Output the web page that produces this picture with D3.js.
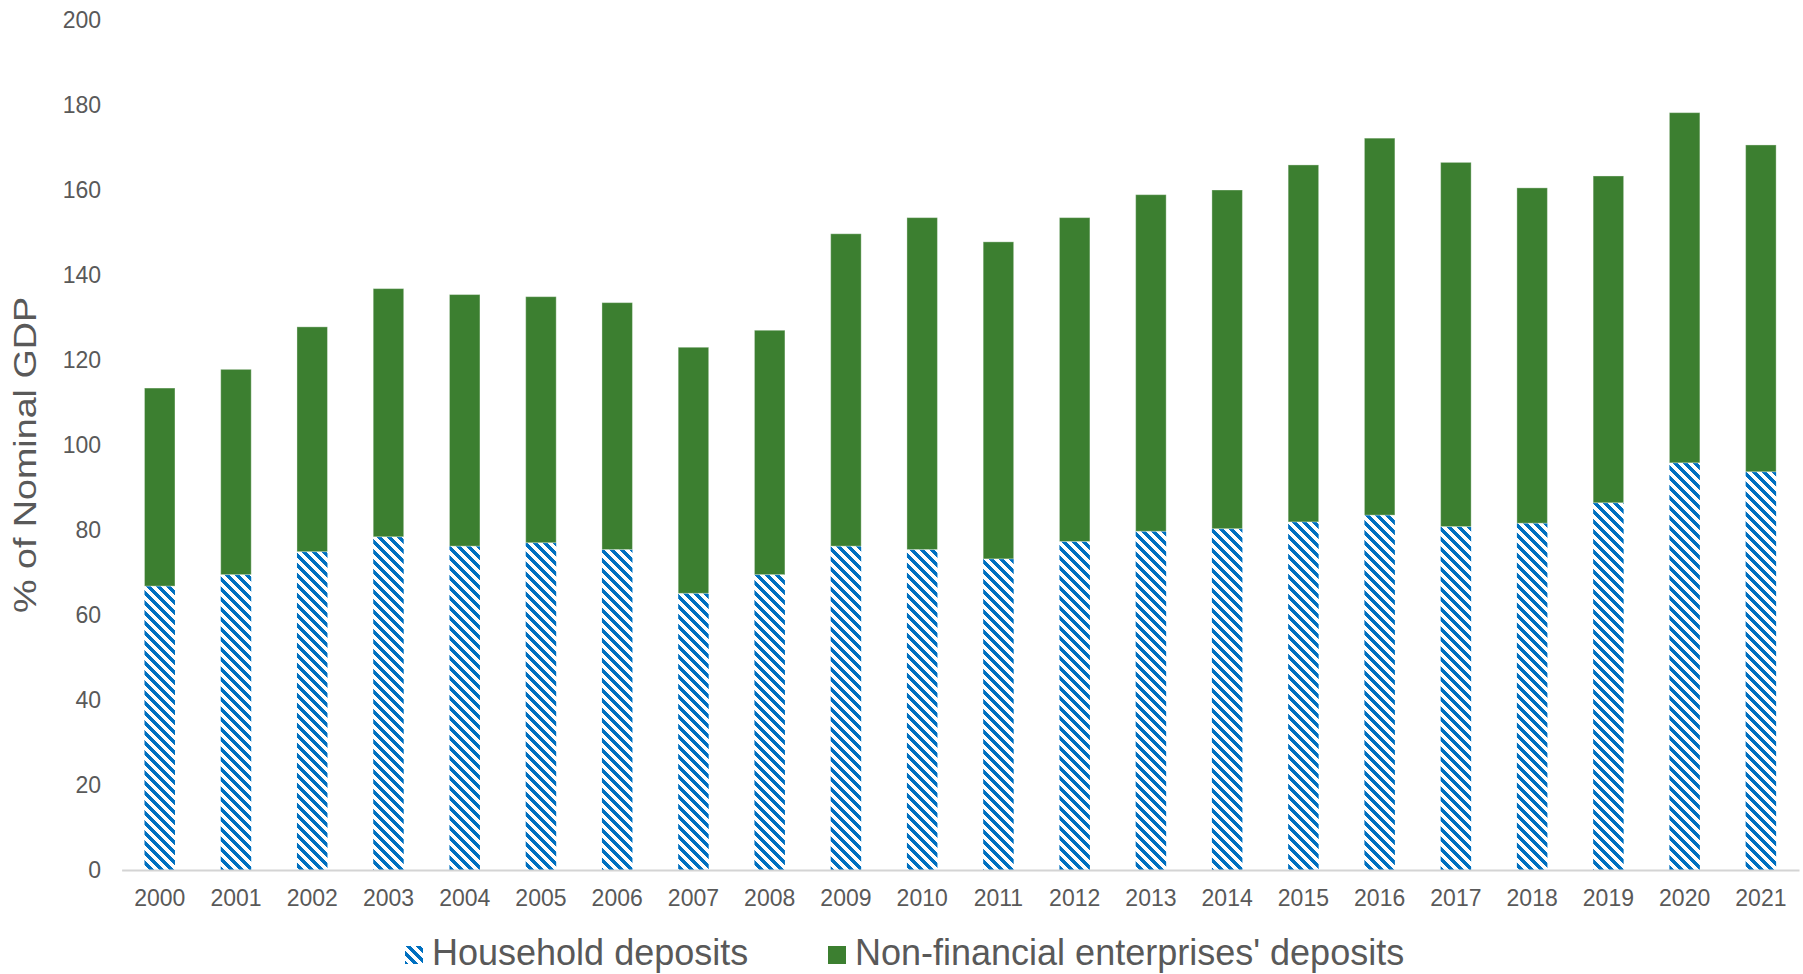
<!DOCTYPE html>
<html>
<head>
<meta charset="utf-8">
<script src="https://cdn.jsdelivr.net/npm/d3@7"></script>
<style>
  html, body { margin: 0; padding: 0; background: #ffffff; }
  svg { display: block; font-family: "Liberation Sans", Arial, sans-serif; }
</style>
</head>
<body>
<svg id="chart" width="1803" height="974"></svg>
<script>
// Deposits as % of nominal GDP, by year
const years = ["2000","2001","2002","2003","2004","2005","2006","2007","2008","2009","2010",
               "2011","2012","2013","2014","2015","2016","2017","2018","2019","2020","2021"];
const householdDeposits = [66.8, 69.5, 74.9, 78.4, 76.2, 77.0, 75.4, 65.1, 69.5, 76.2, 75.4,
                           73.2, 77.3, 79.7, 80.3, 81.9, 83.5, 80.8, 81.6, 86.4, 95.8, 93.7];
const enterpriseDeposits = [46.6, 48.3, 52.9, 58.4, 59.2, 57.9, 58.1, 57.9, 57.5, 73.5, 78.1,
                            74.6, 76.2, 79.2, 79.7, 84.0, 88.7, 85.7, 78.9, 76.9, 82.4, 76.9];
const yTicks = [0, 20, 40, 60, 80, 100, 120, 140, 160, 180, 200];
const seriesNames = ["Household deposits", "Non-financial enterprises' deposits"];

const svg = d3.select("#chart");
const textColor = "#595959";
const green = "#3c7f30";
const blue = "#0070c0";

// Hatched fill for household deposits: wide downward diagonal stripes
const P = 10;      // pattern period in px
const RUN = 5;     // blue pixels per row
const defs = svg.append("defs");
const pat = defs.append("pattern")
  .attr("id", "hatch")
  .attr("patternUnits", "userSpaceOnUse")
  .attr("width", P).attr("height", P);
pat.append("rect").attr("width", P).attr("height", P).attr("fill", "#ffffff");
for (let r = 0; r < P; r++) {
  for (let k = 0; k < RUN; k++) {
    const c = (r + k) % P;
    pat.append("rect").attr("x", c).attr("y", r).attr("width", 1).attr("height", 1)
      .attr("fill", blue).attr("shape-rendering", "crispEdges");
  }
}

const x = d3.scaleBand().domain(years).range([121.6, 1799]).paddingInner(0.6).paddingOuter(0.3);
const y = d3.scaleLinear().domain([0, 200]).range([870, 20]);

const rows = years.map((yr, i) => ({ year: yr, household: householdDeposits[i], enterprise: enterpriseDeposits[i] }));
const stacked = d3.stack().keys(["household", "enterprise"])(rows);
const fills = ["url(#hatch)", green];

stacked.forEach((layer, li) => {
  svg.append("g").selectAll("rect")
    .data(layer)
    .join("rect")
    .attr("x", d => x(d.data.year))
    .attr("width", x.bandwidth())
    .attr("y", d => y(d[1]))
    .attr("height", d => y(d[0]) - y(d[1]))
    .attr("fill", fills[li])
    .attr("stroke", li === 1 ? "rgba(255,255,255,0.35)" : "none")
    .attr("stroke-width", 1);
});

// Y axis: labels only
const yAxis = svg.append("g").attr("transform", "translate(101,0)")
  .call(d3.axisLeft(y).tickValues(yTicks).tickSize(0).tickPadding(0).tickFormat(d3.format("d")));
yAxis.select(".domain").remove();
yAxis.selectAll("text").attr("fill", textColor).style("font-size", "23px")
  .style("font-family", "'Liberation Sans', Arial, sans-serif");

// X axis with light baseline
const xAxis = svg.append("g").attr("transform", "translate(0,870)")
  .call(d3.axisBottom(x).tickSize(0).tickPadding(20));
xAxis.select(".domain").attr("stroke", "#d4d4d4").attr("stroke-width", 2);
xAxis.selectAll("text").attr("fill", textColor).style("font-size", "23px")
  .style("font-family", "'Liberation Sans', Arial, sans-serif");

// Y axis title
svg.append("text")
  .attr("transform", "translate(36,455) rotate(-90)")
  .attr("text-anchor", "middle")
  .attr("fill", textColor)
  .style("font-size", "31px")
  .attr("textLength", 316)
  .attr("lengthAdjust", "spacingAndGlyphs")
  .text("% of Nominal GDP");

// Legend
const legend = svg.append("g");
const legendItems = [
  { name: seriesNames[0], fill: "url(#hatch)", sx: 405, tx: 432 },
  { name: seriesNames[1], fill: green, sx: 828, tx: 855 }
];
legendItems.forEach(it => {
  legend.append("rect").attr("x", it.sx).attr("y", 946).attr("width", 18).attr("height", 18).attr("fill", it.fill);
  legend.append("text").attr("x", it.tx).attr("y", 965).attr("fill", textColor)
    .style("font-size", "36px").text(it.name);
});
</script>
</body>
</html>
